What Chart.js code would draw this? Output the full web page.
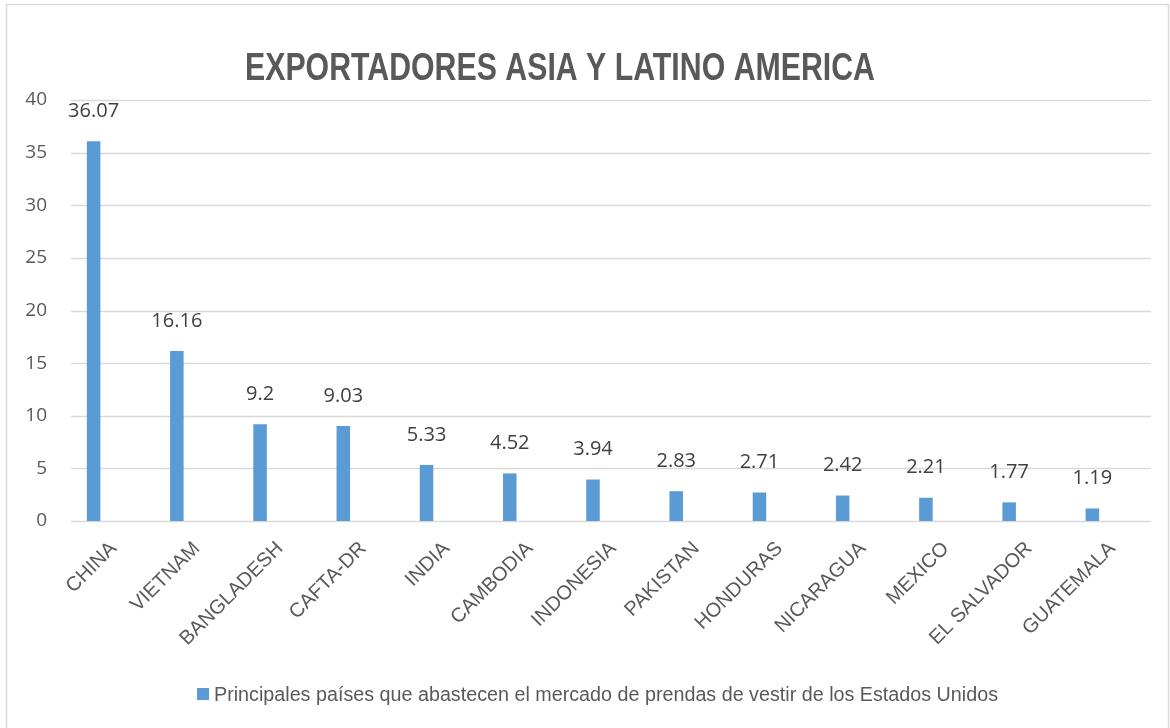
<!DOCTYPE html>
<html>
<head>
<meta charset="utf-8">
<script src="https://cdn.jsdelivr.net/npm/chart.js@4"></script>
<style>
  body { margin: 0; background: #fff; }
  #chart { display: block; }
</style>
</head>
<body>
<canvas id="chart" width="1170" height="728"></canvas>
<script>
const countries = ['CHINA', 'VIETNAM', 'BANGLADESH', 'CAFTA-DR', 'INDIA', 'CAMBODIA', 'INDONESIA',
    'PAKISTAN', 'HONDURAS', 'NICARAGUA', 'MEXICO', 'EL SALVADOR', 'GUATEMALA'];
const shares = [36.07, 16.16, 9.2, 9.03, 5.33, 4.52, 3.94, 2.83, 2.71, 2.42, 2.21, 1.77, 1.19];
const yTicks = [0, 5, 10, 15, 20, 25, 30, 35, 40];

const chartTitle = 'EXPORTADORES ASIA Y LATINO AMERICA';
const seriesName = 'Principales países que abastecen el mercado de prendas de vestir de los Estados Unidos';
const barColor = '#5b9bd5';
const arialLike = '"Liberation Sans", Arial, sans-serif';
const calibriLike = '"Open Sans", "Noto Sans", sans-serif';

// frame, condensed title and gridlines (Excel draws them a bit right of the bars)
const backdrop = {
    id: 'backdrop',
    beforeDraw(chart) {
        const c = chart.ctx;
        c.save();
        c.fillStyle = '#fff';
        c.fillRect(0, 0, chart.width, chart.height);
        c.strokeStyle = '#d9d9d9';
        c.lineWidth = 1.5;
        c.strokeRect(6.5, 4.5, chart.width - 8, chart.height + 10);

        c.font = 'bold 38px ' + arialLike;
        c.fillStyle = '#595959';
        c.textAlign = 'center';
        c.textBaseline = 'middle';
        const w = c.measureText(chartTitle).width;
        c.translate(560, 70);
        c.scale(630 / w, 1);
        c.fillText(chartTitle, 0, 0);
        c.restore();
    },
    beforeDatasetsDraw(chart) {
        const c = chart.ctx, y = chart.scales.y, a = chart.chartArea;
        c.save();
        c.strokeStyle = '#d9d9d9';
        c.lineWidth = 1.5;
        yTicks.forEach(v => {
            const py = Math.round(y.getPixelForValue(v)) + 0.5;
            c.beginPath();
            c.moveTo(a.left + 19, py);
            c.lineTo(a.right + 17, py);
            c.stroke();
        });
        c.restore();
    }
};

// value labels over the bars + the legend line at the bottom
const valueLabels = {
    id: 'valueLabels',
    afterDatasetsDraw(chart) {
        const c = chart.ctx;
        c.save();
        c.font = '20px ' + calibriLike;
        c.fillStyle = '#404040';
        c.textAlign = 'center';
        c.textBaseline = 'middle';
        chart.getDatasetMeta(0).data.forEach((bar, i) => {
            c.fillText(String(shares[i]), bar.x, bar.y - 30);
        });

        c.fillStyle = barColor;
        c.fillRect(197, 688, 12, 12);
        c.font = '20px ' + arialLike;
        c.fillStyle = '#595959';
        c.textAlign = 'left';
        const w = c.measureText(seriesName).width;
        c.translate(214, 695);
        c.scale(784 / w, 1);
        c.fillText(seriesName, 0, 0);
        c.restore();
    }
};

new Chart(document.getElementById('chart'), {
    type: 'bar',
    data: {
        labels: countries,
        datasets: [{
            label: seriesName,
            data: shares,
            backgroundColor: barColor,
            borderWidth: 0,
            barPercentage: 0.65,
            categoryPercentage: 0.25
        }]
    },
    options: {
        responsive: false,
        animation: false,
        layout: { padding: { left: 0, right: 36, top: 100, bottom: 60 } },
        plugins: {
            title: { display: false },
            legend: { display: false },
            tooltip: { enabled: false }
        },
        scales: {
            x: {
                grid: { display: false, drawTicks: false },
                border: { display: false },
                afterFit(scale) { scale.height = 147; },
                ticks: {
                    color: '#595959',
                    font: { family: arialLike, size: 20 },
                    minRotation: 45,
                    maxRotation: 45,
                    labelOffset: 20,
                    padding: 16
                }
            },
            y: {
                min: 0,
                max: 40,
                grid: { display: false, drawTicks: false },
                border: { display: false },
                afterFit(scale) { scale.width = 52; },
                afterBuildTicks(scale) { scale.ticks = yTicks.map(v => ({ value: v })); },
                ticks: {
                    color: '#595959',
                    font: { family: calibriLike, size: 19 },
                    padding: 5
                }
            }
        }
    },
    plugins: [backdrop, valueLabels]
});
</script>
</body>
</html>
